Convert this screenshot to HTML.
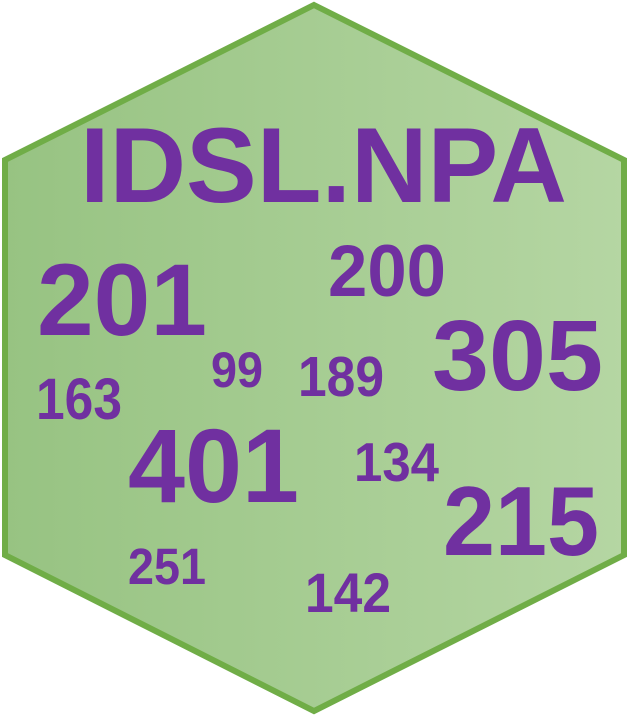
<!DOCTYPE html>
<html><head><meta charset="utf-8"><style>
html,body{margin:0;padding:0;background:#fff;}
svg{display:block}
text{font-family:"Liberation Sans",Arial,sans-serif;font-weight:bold;fill:#7030a0;}
</style></head><body>
<svg width="629" height="715" viewBox="0 0 629 715" xmlns="http://www.w3.org/2000/svg">
<defs><linearGradient id="g" x1="0" x2="1" y1="0" y2="0">
<stop offset="0" stop-color="#97c382"/><stop offset="1" stop-color="#b5d6a3"/></linearGradient></defs>
<polygon points="314,5 624,160 624,555 314,711 5,555 5,160" fill="url(#g)" stroke="#70ad47" stroke-width="6" stroke-linejoin="miter"/>
<text x="80" y="202" font-size="107" textLength="487" lengthAdjust="spacingAndGlyphs">IDSL.NPA</text>
<text x="37" y="335" font-size="102" textLength="170" lengthAdjust="spacingAndGlyphs">201</text>
<text x="328" y="296" font-size="73" textLength="118" lengthAdjust="spacingAndGlyphs">200</text>
<text x="432" y="390" font-size="100" textLength="171" lengthAdjust="spacingAndGlyphs">305</text>
<text x="211" y="387" font-size="50" textLength="52" lengthAdjust="spacingAndGlyphs">99</text>
<text x="298" y="396" font-size="57" textLength="86" lengthAdjust="spacingAndGlyphs">189</text>
<text x="36" y="419" font-size="58" textLength="86" lengthAdjust="spacingAndGlyphs">163</text>
<text x="128" y="502" font-size="105" textLength="171" lengthAdjust="spacingAndGlyphs">401</text>
<text x="354" y="481" font-size="55" textLength="85" lengthAdjust="spacingAndGlyphs">134</text>
<text x="443" y="555" font-size="98" textLength="156" lengthAdjust="spacingAndGlyphs">215</text>
<text x="128" y="584" font-size="51" textLength="78" lengthAdjust="spacingAndGlyphs">251</text>
<text x="305" y="612" font-size="56" textLength="86" lengthAdjust="spacingAndGlyphs">142</text>
</svg>
</body></html>
